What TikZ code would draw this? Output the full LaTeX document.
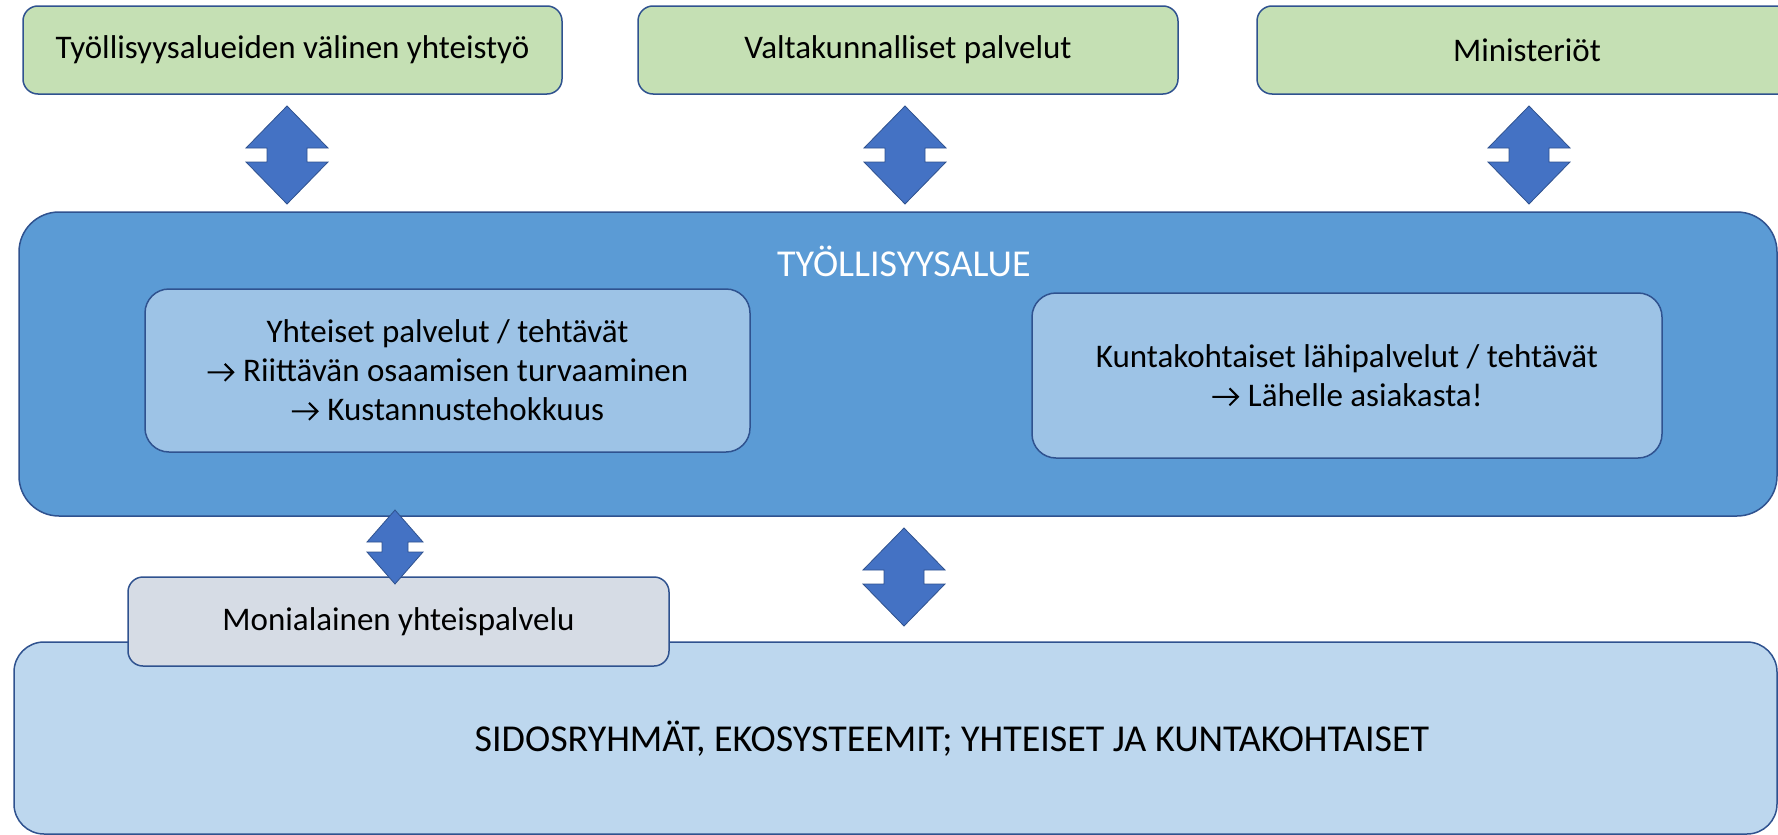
\documentclass[tikz,border=0pt]{standalone}
\usepackage{fontspec}
\setmainfont{Carlito}
\usetikzlibrary{calc}
\definecolor{greenfill}{HTML}{C5E0B4}
\definecolor{edge}{HTML}{2F528F}
\definecolor{mainfill}{HTML}{5B9BD5}
\definecolor{innerfill}{HTML}{9DC3E6}
\definecolor{arrowfill}{HTML}{4472C4}
\definecolor{greyfill}{HTML}{D6DCE5}
\definecolor{basefill}{HTML}{BDD7EE}
\newcommand{\ar}{\tikz[x=1pt,y=1pt,baseline=0pt,sharp corners,line width=2pt]{\draw[draw=black,line width=2pt,line cap=butt,line join=miter,sharp corners] (0,9.5) -- (25,9.5) (17,1) -- (25.5,9.5) -- (17,18);}\hspace{9pt}}
\begin{document}
\begin{tikzpicture}[x=1pt,y=-1pt,
  box/.style={draw=edge, line width=1.5pt, rounded corners=#1, inner sep=0pt,
    align=center, font=\fontsize{33}{39}\selectfont, text=black},
  box/.default=15pt,
  title/.style={inner sep=0pt, font=\fontsize{38}{44}\selectfont},
  arrowshape/.style={fill=arrowfill, draw=edge, line width=0.8pt, line join=miter},
  bigarrow/.pic={\path[arrowshape] (0,-49) -- (41,-7) -- (20,-7) -- (20,7) -- (41,7)
      -- (0,49) -- (-41,7) -- (-20,7) -- (-20,-7) -- (-41,-7) -- cycle;},
  smallarrow/.pic={\path[arrowshape] (0,-37) -- (28,-5) -- (13,-5) -- (13,5) -- (28,5)
      -- (0,37) -- (-28,5) -- (-13,5) -- (-13,-5) -- (-28,-5) -- cycle;}
]
\useasboundingbox (0,0) rectangle (1778,835);
\clip (0,0) rectangle (1778,835);

% top boxes
\node[box, fill=greenfill, minimum width=539pt, minimum height=88pt] (b1) at (292.5,50) {Työllisyysalueiden välinen yhteistyö};
\node[box, fill=greenfill, minimum width=540pt, minimum height=88pt] (b2) at (908,50) {Valtakunnalliset palvelut};
\node[box, fill=greenfill, minimum width=540pt, minimum height=88pt] (b3) at (1527,50) {Ministeriöt};

% main box
\node[box=40pt, fill=mainfill, minimum width=1758pt, minimum height=304pt] (main) at (898,364) {};
\node[title, text=white] (maintitle) at (904,261) {TYÖLLISYYSALUE};
\node[box=24pt, fill=innerfill, minimum width=605pt, minimum height=163pt] (inl) at (447.5,370.5)
  {Yhteiset palvelut / tehtävät\\ \ar Riittävän osaamisen turvaaminen\\ \ar Kustannustehokkuus};
\node[box=24pt, fill=innerfill, minimum width=630pt, minimum height=165pt] (inr) at (1347,375.5)
  {Kuntakohtaiset lähipalvelut / tehtävät\\ \ar Lähelle asiakasta!};

% bottom box
\node[box=30pt, fill=basefill, minimum width=1763pt, minimum height=192pt] (base) at (895.5,738) {};
\node[title, text=black] (basetitle) at (952,739) {SIDOSRYHMÄT, EKOSYSTEEMIT; YHTEISET JA KUNTAKOHTAISET};
\node[box, fill=greyfill, minimum width=541pt, minimum height=89pt] (moni) at (398.5,621.5) {Monialainen yhteispalvelu};

% block arrows
\pic at (287,155) {bigarrow};
\pic at (905,155) {bigarrow};
\pic at (1529,155) {bigarrow};
\pic at (395,547) {smallarrow};
\pic at (904,577) {bigarrow};
\end{tikzpicture}
\end{document}
